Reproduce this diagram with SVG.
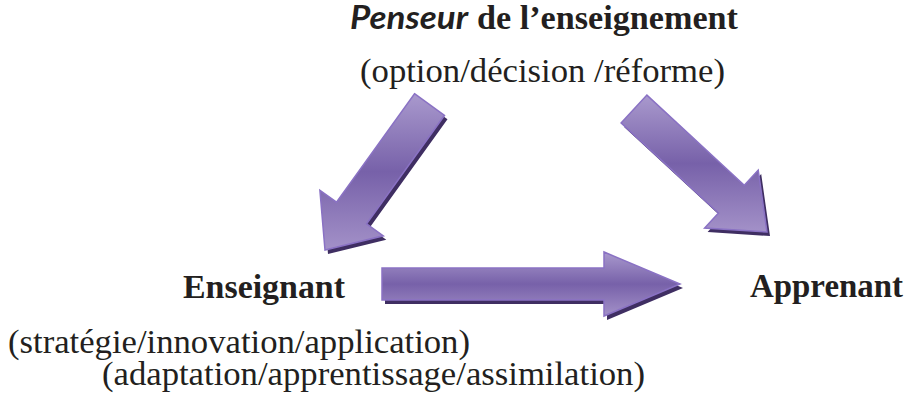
<svg xmlns="http://www.w3.org/2000/svg" width="911" height="399" viewBox="0 0 911 399">
  <style>
    .t { font-family: "Liberation Serif", "DejaVu Serif", serif; font-size: 33px; fill: #231f20; }
    .b { font-weight: bold; }
    .arrow { fill: url(#arrowGrad); stroke: #8a72c4; stroke-width: 1.5; stroke-linejoin: miter; }
    .shadow { fill: #3f2e62; }
  </style>
  <defs>
    <linearGradient id="arrowGrad" x1="0" y1="0" x2="0" y2="1">
      <stop offset="0" stop-color="#a999cd"/>
      <stop offset="0.5" stop-color="#7761a9"/>
      <stop offset="1" stop-color="#a391c8"/>
    </linearGradient>
  </defs>
  <rect width="911" height="399" fill="#ffffff"/>

  <g id="connectors">
    <g id="arrow-penseur-enseignant">
      <polygon class="shadow" transform="translate(3,4)" points="414.5,93.7 444.5,115.3 366.6,223.8 383.3,235.8 325,250 319.9,190.3 336.5,202.2"/>
      <polygon class="arrow" points="414.5,93.7 444.5,115.3 366.6,223.8 383.3,235.8 325,250 319.9,190.3 336.5,202.2"/>
    </g>
    <g id="arrow-penseur-apprenant">
      <polygon class="shadow" transform="translate(3,4)" points="646.9,95.1 744.3,185.2 758.2,170.1 767,232 704.6,228.1 718.5,213 621.1,122.9"/>
      <polygon class="arrow" points="646.9,95.1 744.3,185.2 758.2,170.1 767,232 704.6,228.1 718.5,213 621.1,122.9"/>
    </g>
    <g id="arrow-enseignant-apprenant">
      <polygon class="shadow" transform="translate(3,4)" points="382,268 604,268 604,252 680,284 604,316 604,300 382,300"/>
      <polygon class="arrow" points="382,268 604,268 604,252 680,284 604,316 604,300 382,300"/>
    </g>
  </g>

  <g id="penseur">
    <text class="t b" x="350" y="29" font-size="29" style="font-family: Lato, 'Open Sans', sans-serif; font-style: italic;" textLength="118" lengthAdjust="spacingAndGlyphs">Penseur</text>
    <text class="t b" x="477" y="29" font-size="31" textLength="261" lengthAdjust="spacingAndGlyphs">de l’enseignement</text>
    <text class="t" x="360" y="82" textLength="365" lengthAdjust="spacingAndGlyphs">(option/décision /réforme)</text>
  </g>

  <g id="enseignant">
    <text class="t b" x="183" y="298" font-size="32" textLength="162" lengthAdjust="spacingAndGlyphs">Enseignant</text>
    <text class="t" x="8" y="353" textLength="462" lengthAdjust="spacingAndGlyphs">(stratégie/innovation/application)</text>
    <text class="t" x="102" y="385" textLength="543" lengthAdjust="spacingAndGlyphs">(adaptation/apprentissage/assimilation)</text>
  </g>

  <g id="apprenant">
    <text class="t b" x="750" y="297" font-size="32" textLength="153" lengthAdjust="spacingAndGlyphs">Apprenant</text>
  </g>
</svg>
